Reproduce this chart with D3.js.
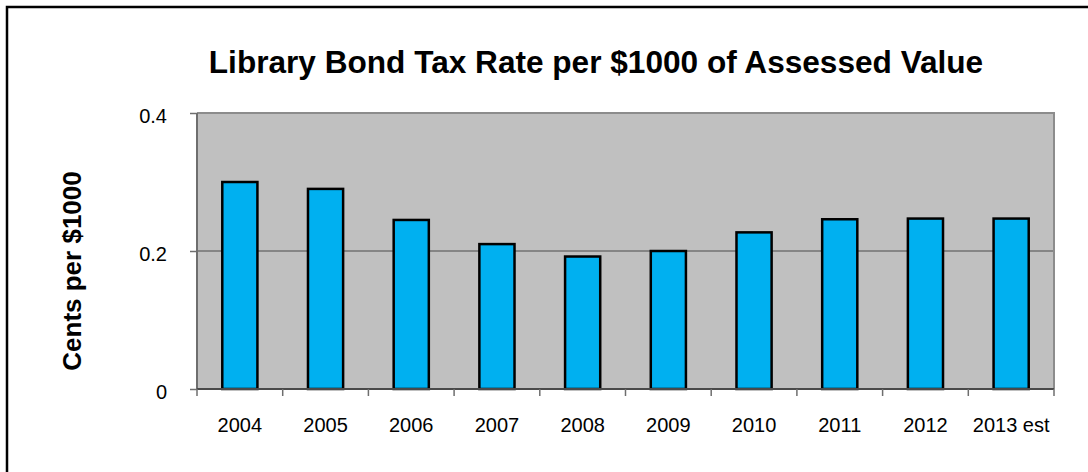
<!DOCTYPE html>
<html>
<head>
<meta charset="utf-8">
<script src="https://cdn.jsdelivr.net/npm/d3@7"></script>
<style>
  html, body { margin: 0; padding: 0; background: #fff; }
  svg { display: block; font-family: "Liberation Sans", Arial, sans-serif; }
</style>
</head>
<body>
<svg id="chart" width="1088" height="472"></svg>
<script>
// Library bond tax rate, cents per $1000 of assessed value
const years = ["2004", "2005", "2006", "2007", "2008", "2009", "2010", "2011", "2012", "2013 est"];
const rates = [0.300, 0.290, 0.245, 0.210, 0.192, 0.200, 0.227, 0.246, 0.247, 0.247];
const yTicks = [0, 0.2, 0.4];
const yTickLabels = ["0", "0.2", "0.4"];

const svg = d3.select("#chart");
const W = 1088, H = 472;

// outer chart frame
svg.append("rect")
  .attr("x", 7).attr("y", 7)
  .attr("width", W + 10).attr("height", H + 10)
  .attr("fill", "#fff").attr("stroke", "#000").attr("stroke-width", 2.5);

const plot = { left: 197, top: 113, right: 1054, bottom: 389 };

const x = d3.scaleBand()
  .domain(years)
  .range([plot.left, plot.right])
  .paddingInner(0.59)
  .paddingOuter(0.295);

const y = d3.scaleLinear()
  .domain([0, 0.4])
  .range([plot.bottom, plot.top]);

// plot background
svg.append("rect")
  .attr("x", plot.left).attr("y", plot.top)
  .attr("width", plot.right - plot.left).attr("height", plot.bottom - plot.top)
  .attr("fill", "#c0c0c0");

// horizontal gridlines
svg.append("g")
  .selectAll("line")
  .data(yTicks.filter(d => d > 0 && d < 0.4))
  .join("line")
  .attr("x1", plot.left).attr("x2", plot.right)
  .attr("y1", d => y(d)).attr("y2", d => y(d))
  .attr("stroke", "#4a4a4a").attr("stroke-width", 1);

// plot border (top and right)
svg.append("path")
  .attr("d", `M${plot.left},${plot.top}H${plot.right}V${plot.bottom}`)
  .attr("fill", "none").attr("stroke", "#8c8c8c").attr("stroke-width", 2);

// bars
svg.append("g")
  .selectAll("rect")
  .data(rates)
  .join("rect")
  .attr("x", (d, i) => x(years[i]))
  .attr("y", d => y(d))
  .attr("width", x.bandwidth())
  .attr("height", d => y(0) - y(d))
  .attr("fill", "#00b0f0")
  .attr("stroke", "#000")
  .attr("stroke-width", 2.5);

// y axis
const yAxis = d3.axisLeft(y)
  .tickValues(yTicks)
  .tickFormat((d, i) => yTickLabels[i])
  .tickSize(7)
  .tickPadding(23);
const gy = svg.append("g")
  .attr("transform", `translate(${plot.left},0)`)
  .call(yAxis);
gy.select(".domain").attr("stroke", "#6e6e6e").attr("stroke-width", 2)
  .attr("d", `M0,${plot.top}V${plot.bottom}`);
gy.selectAll(".tick line").attr("stroke", "#6e6e6e").attr("stroke-width", 1.5);
gy.selectAll(".tick text")
  .attr("font-size", 20).attr("fill", "#000").attr("dy", "0.45em")
  .style("font-family", '"Liberation Sans", Arial, sans-serif');

// x axis: ticks sit on category boundaries
const xAxis = d3.axisBottom(x).tickSize(0).tickPadding(29);
const gx = svg.append("g")
  .attr("transform", `translate(0,${plot.bottom})`)
  .call(xAxis);
gx.select(".domain").attr("stroke", "#4a4a4a").attr("stroke-width", 2)
  .attr("d", `M${plot.left},0H${plot.right}`);
gx.selectAll(".tick text")
  .attr("font-size", 20).attr("fill", "#000")
  .style("font-family", '"Liberation Sans", Arial, sans-serif');

const boundaries = d3.range(years.length + 1).map(i => plot.left + i * (plot.right - plot.left) / years.length);
gx.append("g")
  .selectAll("line")
  .data(boundaries)
  .join("line")
  .attr("x1", d => d).attr("x2", d => d)
  .attr("y1", 0).attr("y2", 7)
  .attr("stroke", "#6e6e6e").attr("stroke-width", 1.5);

// title
svg.append("text")
  .attr("x", 596).attr("y", 73)
  .attr("text-anchor", "middle")
  .attr("font-size", 31.6).attr("font-weight", "bold")
  .attr("fill", "#000")
  .text("Library Bond Tax Rate per $1000 of Assessed Value");

// y axis title
svg.append("text")
  .attr("transform", `translate(81,${(plot.top + plot.bottom) / 2 + 20}) rotate(-90)`)
  .attr("text-anchor", "middle")
  .attr("font-size", 26).attr("font-weight", "bold")
  .attr("fill", "#000")
  .text("Cents per $1000");
</script>
</body>
</html>
